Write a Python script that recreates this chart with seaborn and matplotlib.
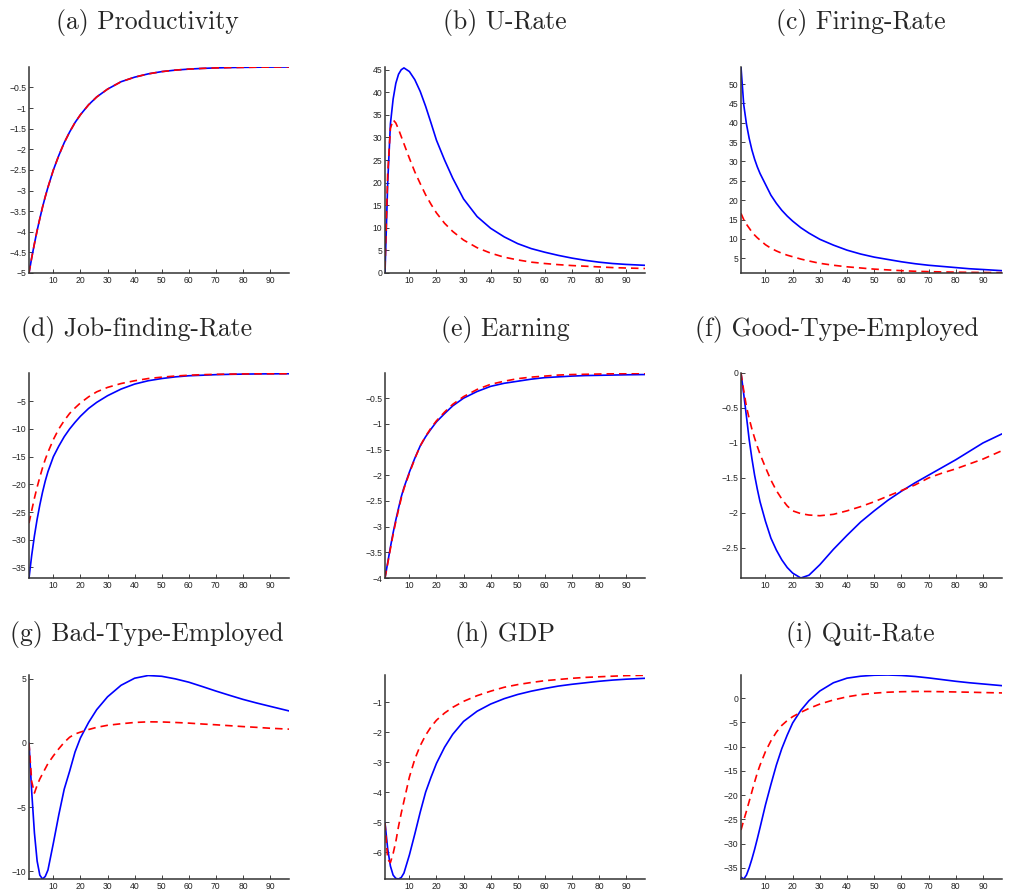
import matplotlib
matplotlib.use("Agg")
import matplotlib.pyplot as plt
import matplotlib.ticker as mticker
import seaborn as sns
import pandas as pd

# ---------------- data ----------------
t = [1, 2, 3, 4, 5, 6, 7, 8, 10, 12, 14, 16, 18, 20, 23, 26, 30, 35, 40, 45,
     50, 55, 60, 65, 70, 75, 80, 85, 90, 97]

prod_blue = [-5, -4.63, -4.29, -3.97, -3.68, -3.40, -3.15, -2.92, -2.50, -2.15, -1.84, -1.58, -1.35, -1.16,
             -0.92, -0.73, -0.54, -0.36, -0.25, -0.17, -0.115, -0.079, -0.054, -0.037, -0.025, -0.017,
             -0.012, -0.008, -0.005, -0.003]
prod_red = [-5, -4.63, -4.29, -3.97, -3.68, -3.40, -3.15, -2.92, -2.50, -2.15, -1.84, -1.58, -1.35, -1.16,
            -0.92, -0.73, -0.54, -0.36, -0.25, -0.17, -0.115, -0.079, -0.054, -0.037, -0.025, -0.017,
            -0.012, -0.008, -0.005, -0.003]

urate_blue = [0, 20, 33, 38.5, 42, 44, 45, 45.4, 44.6, 42.8, 40.2, 36.9, 33.2, 29.4, 25.0, 21.0, 16.4, 12.5,
              9.9, 8.0, 6.5, 5.4, 4.6, 3.9, 3.3, 2.8, 2.4, 2.1, 1.9, 1.7]
urate_red = [1, 22, 32, 33.9, 33.2, 31.8, 30.2, 28.6, 25.4, 22.4, 19.8, 17.3, 15.2, 13.3, 11.0, 9.2, 7.3, 5.6,
             4.4, 3.5, 2.9, 2.4, 2.1, 1.85, 1.65, 1.5, 1.35, 1.2, 1.1, 1.0]

fire_blue = [54.4, 44.7, 39.7, 36.0, 33.0, 30.6, 28.6, 26.9, 24.1, 21.3, 19.2, 17.4, 15.9, 14.6, 12.9, 11.5,
             9.9, 8.4, 7.1, 6.1, 5.3, 4.7, 4.1, 3.6, 3.2, 2.9, 2.6, 2.3, 2.1, 1.8]
fire_red = [16.6, 15, 13.8, 12.8, 11.8, 11, 10.3, 9.7, 8.5, 7.6, 6.9, 6.3, 5.8, 5.4, 4.8, 4.3, 3.7, 3.2,
            2.8, 2.5, 2.2, 2.0, 1.8, 1.65, 1.55, 1.48, 1.42, 1.37, 1.33, 1.28]

job_blue = [-36.9, -32.8, -29.3, -26.3, -23.7, -21.4, -19.4, -17.7, -15.0, -13.1, -11.4, -10.0, -8.8, -7.7,
            -6.3, -5.2, -4.0, -2.8, -1.9, -1.3, -0.9, -0.6, -0.4, -0.3, -0.2, -0.14, -0.1, -0.07, -0.05, -0.03]
job_red = [-27, -24.7, -22.5, -20.5, -18.7, -17, -15.5, -14.2, -11.9, -10.0, -8.5, -7.2, -6.2, -5.3, -4.2,
           -3.3, -2.5, -1.8, -1.3, -0.9, -0.65, -0.45, -0.3, -0.2, -0.14, -0.1, -0.07, -0.05, -0.04, -0.03]

earn_blue = [-4, -3.7, -3.4, -3.12, -2.87, -2.64, -2.42, -2.24, -1.94, -1.67, -1.43, -1.25, -1.1, -0.96,
             -0.8, -0.65, -0.5, -0.37, -0.27, -0.21, -0.17, -0.13, -0.1, -0.085, -0.07, -0.06, -0.055,
             -0.05, -0.045, -0.04]
earn_red = [-4, -3.72, -3.43, -3.15, -2.9, -2.67, -2.45, -2.26, -1.96, -1.68, -1.43, -1.24, -1.08, -0.94,
            -0.77, -0.62, -0.47, -0.33, -0.23, -0.17, -0.12, -0.09, -0.07, -0.05, -0.04, -0.035, -0.03,
            -0.025, -0.02, -0.015]

good_blue = [0, -0.3, -0.62, -0.95, -1.22, -1.46, -1.66, -1.84, -2.12, -2.36, -2.53, -2.67, -2.78, -2.86,
             -2.93, -2.89, -2.74, -2.52, -2.32, -2.13, -1.97, -1.82, -1.69, -1.57, -1.46, -1.35, -1.24,
             -1.12, -1.0, -0.87]
good_red = [0, -0.25, -0.48, -0.65, -0.8, -0.93, -1.05, -1.16, -1.35, -1.53, -1.68, -1.8, -1.9, -1.97,
            -2.01, -2.03, -2.04, -2.02, -1.97, -1.91, -1.84, -1.76, -1.68, -1.6, -1.5, -1.43, -1.37,
            -1.3, -1.23, -1.11]

bad_blue = [0, -3.8, -7.0, -9.2, -10.3, -10.6, -10.4, -9.9, -7.8, -5.6, -3.6, -2.2, -0.7, 0.4, 1.6,
            2.6, 3.6, 4.5, 5.05, 5.26, 5.2, 5.0, 4.74, 4.4, 4.05, 3.72, 3.4, 3.12, 2.86, 2.5]
bad_red = [0, -3.0, -3.9, -3.3, -2.8, -2.4, -2.0, -1.6, -1.0, -0.45, 0.05, 0.45, 0.7, 0.85, 1.05,
           1.22, 1.38, 1.5, 1.6, 1.65, 1.64, 1.6, 1.55, 1.48, 1.42, 1.35, 1.28, 1.22, 1.15, 1.08]

gdp_blue = [-5.02, -5.9, -6.47, -6.77, -6.88, -6.9, -6.85, -6.7, -6.1, -5.4, -4.67, -4.0, -3.5, -3.04,
            -2.5, -2.07, -1.64, -1.3, -1.06, -0.88, -0.74, -0.63, -0.54, -0.46, -0.4, -0.35, -0.3,
            -0.26, -0.23, -0.2]
gdp_red = [-5.03, -6.25, -6.35, -6.05, -5.65, -5.14, -4.7, -4.3, -3.5, -2.9, -2.45, -2.1, -1.82, -1.6,
           -1.36, -1.17, -0.97, -0.78, -0.63, -0.5, -0.41, -0.34, -0.28, -0.24, -0.2, -0.17, -0.15,
           -0.13, -0.11, -0.1]

quit_blue = [-36.9, -37.3, -36.5, -35, -33.2, -31.2, -29, -26.7, -22, -17.8, -13.8, -10.4, -7.6, -5.1,
             -2.5, -0.5, 1.5, 3.2, 4.15, 4.55, 4.75, 4.8, 4.7, 4.5, 4.2, 3.85, 3.5, 3.2, 2.95, 2.6]
quit_red = [-27.2, -25.2, -23.3, -21.3, -19.3, -17.3, -15.4, -13.8, -11, -8.8, -7.0, -5.6, -4.6, -3.8,
            -2.9, -2.1, -1.2, -0.35, 0.3, 0.75, 1.05, 1.25, 1.35, 1.4, 1.4, 1.35, 1.3, 1.25, 1.18, 1.1]

titles = ["(a) Productivity", "(b) U-Rate", "(c) Firing-Rate",
          "(d) Job-finding-Rate", "(e) Earning", "(f) Good-Type-Employed",
          "(g) Bad-Type-Employed", "(h) GDP", "(i) Quit-Rate"]
x_ticks = [10, 20, 30, 40, 50, 60, 70, 80, 90]
y_ticks = [
    [-5, -4.5, -4, -3.5, -3, -2.5, -2, -1.5, -1, -0.5],
    [0, 5, 10, 15, 20, 25, 30, 35, 40, 45],
    [5, 10, 15, 20, 25, 30, 35, 40, 45, 50],
    [-35, -30, -25, -20, -15, -10, -5],
    [-4, -3.5, -3, -2.5, -2, -1.5, -1, -0.5],
    [-2.5, -2, -1.5, -1, -0.5, 0],
    [-10, -5, 0, 5],
    [-6, -5, -4, -3, -2, -1],
    [-35, -30, -25, -20, -15, -10, -5, 0],
]
y_lims = [(-5, -0.003), (0, 45.6), (1.2, 54.4), (-36.9, 0.1), (-4, -0.01),
          (-2.93, 0.0), (-10.6, 5.3), (-6.9, -0.09), (-37.3, 4.8)]
series = [(prod_blue, prod_red), (urate_blue, urate_red), (fire_blue, fire_red),
          (job_blue, job_red), (earn_blue, earn_red), (good_blue, good_red),
          (bad_blue, bad_red), (gdp_blue, gdp_red), (quit_blue, quit_red)]

# ---------------- layout (pixels of a 1010x890 canvas) ----------------
W, H = 1010, 890
col_left = [29, 385, 741]
col_width = [260, 260, 261]
row_top = [67, 373, 675]
row_bottom = [273, 578, 879]
title_y = [23, 329, 634]
title_x = [147, 505, 861, 137, 505, 837, 147, 505, 860]

sns.set_style("ticks")
plt.rcParams['font.family'] = ['Liberation Sans', 'DejaVu Sans']

fig = plt.figure(figsize=(W / 100, H / 100), dpi=100)
fmt = mticker.FuncFormatter(lambda v, p: f"{v:g}".replace("-", "\u2212"))

for i, (blue, red) in enumerate(series):
    r, c = divmod(i, 3)
    ax = fig.add_axes([col_left[c] / W, 1 - row_bottom[r] / H,
                       col_width[c] / W, (row_bottom[r] - row_top[r]) / H])
    df = pd.DataFrame({"t": t, "blue": blue, "red": red})
    sns.lineplot(data=df, x="t", y="blue", ax=ax, color="#0000ff", lw=1.2)
    sns.lineplot(data=df, x="t", y="red", ax=ax, color="#ff0000", lw=1.2,
                 linestyle=(0, (4.5, 3)))
    ax.set_xlim(1, 97)
    ax.set_ylim(*y_lims[i])
    ax.set_xticks(x_ticks)
    ax.set_yticks(y_ticks[i])
    ax.xaxis.set_major_formatter(fmt)
    ax.yaxis.set_major_formatter(fmt)
    ax.set_xlabel("")
    ax.set_ylabel("")
    for s in ["top", "right"]:
        ax.spines[s].set_visible(False)
    for s in ["left", "bottom"]:
        ax.spines[s].set_color("#333333")
        ax.spines[s].set_linewidth(1.1)
    ax.tick_params(direction="in", length=3, width=0.6, labelsize=6.2,
                   colors="#222222", pad=2)
    fig.text(title_x[i] / W, 1 - title_y[r] / H, titles[i], ha="center", va="center",
             fontsize=18.5, family=["cmr10", "DejaVu Serif"])

fig.savefig("out.png", dpi=100)
